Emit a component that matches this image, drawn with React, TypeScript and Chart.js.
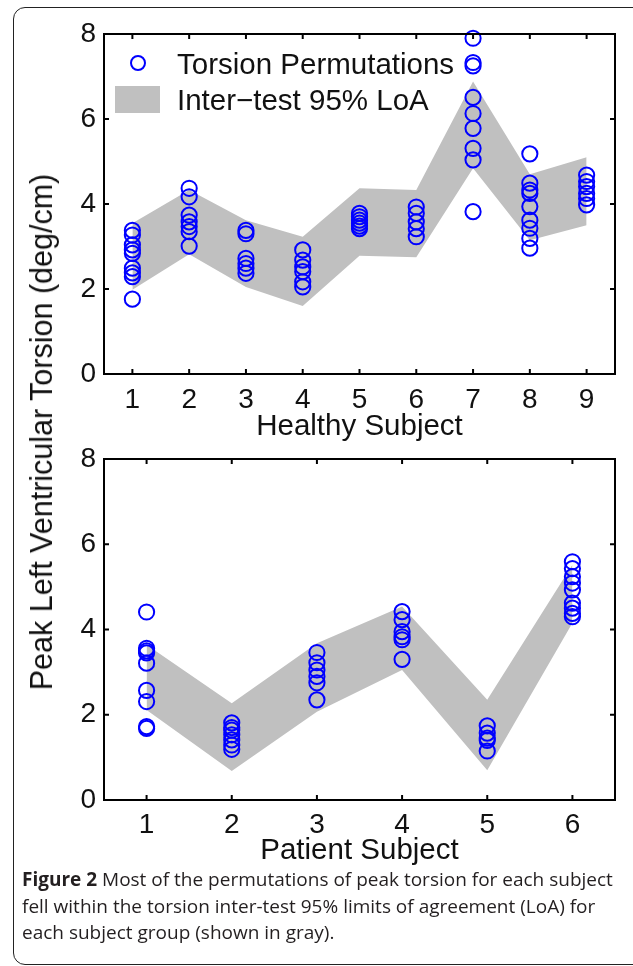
import React, { useEffect, useRef } from 'react';
import { Chart, registerables } from 'chart.js';

Chart.register(...registerables);

// ---------- data ----------
const healthySubjects = [1, 2, 3, 4, 5, 6, 7, 8, 9];
const patientSubjects = [1, 2, 3, 4, 5, 6];
const yTickValues = [0, 2, 4, 6, 8];

const healthyPermutations = [
  [3.38, 3.27, 3.04, 2.92, 2.84, 2.49, 2.38, 2.29, 1.76],
  [4.37, 4.17, 3.74, 3.58, 3.47, 3.35, 3.01],
  [3.38, 3.3, 2.72, 2.6, 2.49, 2.37],
  [2.92, 2.68, 2.52, 2.41, 2.17, 2.05],
  [3.78, 3.7, 3.62, 3.55, 3.48, 3.42],
  [3.93, 3.78, 3.58, 3.42, 3.23],
  [7.9, 7.33, 7.25, 6.51, 6.13, 5.78, 5.31, 5.04, 3.82],
  [5.18, 4.49, 4.33, 4.25, 3.94, 3.62, 3.43, 3.19, 2.96],
  [4.68, 4.53, 4.41, 4.25, 4.13, 3.98],
];
const healthyLoaUpper = [3.55, 4.33, 3.62, 3.23, 4.37, 4.33, 6.88, 4.7, 5.1];
const healthyLoaLower = [1.98, 2.82, 2.05, 1.6, 2.78, 2.75, 4.84, 3.15, 3.5];

const patientPermutations = [
  [4.41, 3.56, 3.5, 3.45, 3.21, 2.57, 2.31, 1.72, 1.68],
  [1.81, 1.7, 1.64, 1.53, 1.41, 1.29, 1.19],
  [3.46, 3.22, 3.05, 2.9, 2.75, 2.35],
  [4.42, 4.23, 3.95, 3.83, 3.76, 3.3],
  [1.74, 1.57, 1.45, 1.4, 1.15],
  [5.59, 5.43, 5.24, 5.09, 4.93, 4.62, 4.5, 4.38, 4.3],
];
const patientLoaUpper = [3.64, 2.27, 3.68, 4.54, 2.35, 5.52];
const patientLoaLower = [2.11, 0.68, 2.07, 3.05, 0.7, 4.15];

const healthyTitle = 'Healthy Subject';
const patientTitle = 'Patient Subject';
const yAxisTitle = 'Peak Left Ventricular Torsion (deg/cm)';
const legendPoints = 'Torsion Permutations';
const legendBand = 'Inter\u2212test 95% LoA';

// ---------- styling ----------
const FONT = '"Liberation Sans", Arial, Helvetica, sans-serif';
const TEXT = '#111';
const BLUE = '#0000ff';
const GRAY = '#c0c0c0';

const boxPlugin = {
  id: 'matlabBox',
  afterDraw(chart: any) {
    const { ctx, chartArea, scales } = chart;
    const { left, right, top, bottom } = chartArea;
    const x = scales.x;
    const y = scales.y;
    const tl = 5;
    ctx.save();
    ctx.strokeStyle = '#000';
    ctx.lineWidth = 2;
    ctx.beginPath();
    x.ticks.forEach((t: any) => {
      const px = x.getPixelForValue(t.value);
      ctx.moveTo(px, bottom);
      ctx.lineTo(px, bottom - tl);
      ctx.moveTo(px, top);
      ctx.lineTo(px, top + tl);
    });
    y.ticks.forEach((t: any) => {
      const py = y.getPixelForValue(t.value);
      ctx.moveTo(left, py);
      ctx.lineTo(left + tl, py);
      ctx.moveTo(right, py);
      ctx.lineTo(right - tl, py);
    });
    ctx.stroke();
    ctx.strokeRect(left, top, right - left, bottom - top);
    ctx.restore();
  },
};

function buildConfig(o: {
  subjects: number[];
  perms: number[][];
  upper: number[];
  lower: number[];
  title: string;
  padTop: number;
  xHeight: number;
  titlePadBottom: number;
  tickPad: number;
}): any {
  const points = o.subjects.flatMap((s, i) => o.perms[i].map((v) => ({ x: s, y: v })));
  return {
    type: 'scatter',
    data: {
      datasets: [
        {
          label: legendPoints,
          data: points,
          pointRadius: 7.6,
          pointHoverRadius: 7.6,
          pointBorderWidth: 2,
          pointBorderColor: BLUE,
          pointBackgroundColor: 'rgba(0,0,0,0)',
          clip: false,
        },
        {
          type: 'line',
          label: legendBand,
          data: o.subjects.map((s, i) => ({ x: s, y: o.upper[i] })),
          borderColor: 'rgba(0,0,0,0)',
          borderWidth: 0,
          pointRadius: 0,
          backgroundColor: GRAY,
          fill: '+1',
          tension: 0,
        },
        {
          type: 'line',
          label: 'lower',
          data: o.subjects.map((s, i) => ({ x: s, y: o.lower[i] })),
          borderColor: 'rgba(0,0,0,0)',
          borderWidth: 0,
          pointRadius: 0,
          fill: false,
          tension: 0,
        },
      ],
    },
    options: {
      responsive: false,
      animation: false,
      events: [],
      devicePixelRatio: 1,
      layout: { padding: { top: o.padTop, right: 18, left: 0, bottom: 0 } },
      plugins: { legend: { display: false }, tooltip: { enabled: false } },
      scales: {
        x: {
          type: 'linear',
          min: 0.5,
          max: o.subjects.length + 0.5,
          afterBuildTicks: (s: any) => {
            s.ticks = o.subjects.map((v) => ({ value: v }));
          },
          afterFit: (s: any) => {
            s.height = o.xHeight;
          },
          ticks: {
            font: { family: FONT, size: 28 },
            color: TEXT,
            padding: o.tickPad,
            maxRotation: 0,
            autoSkip: false,
            callback: (v: any) => String(v),
          },
          grid: { display: false, drawTicks: false },
          border: { display: false },
          title: {
            display: true,
            text: o.title,
            font: { family: FONT, size: 29.5 },
            color: TEXT,
            padding: { top: 0, bottom: o.titlePadBottom },
          },
        },
        y: {
          type: 'linear',
          min: 0,
          max: 8,
          afterBuildTicks: (s: any) => {
            s.ticks = yTickValues.map((v) => ({ value: v }));
          },
          afterFit: (s: any) => {
            s.width = 104;
          },
          ticks: {
            font: { family: FONT, size: 28 },
            color: TEXT,
            padding: 8,
            callback: (v: any) => String(v),
          },
          grid: { display: false, drawTicks: false },
          border: { display: false },
        },
      },
    },
    plugins: [boxPlugin],
  };
}

export default function App() {
  const topRef = useRef<HTMLCanvasElement>(null);
  const botRef = useRef<HTMLCanvasElement>(null);

  useEffect(() => {
    const c1 = new Chart(
      topRef.current as HTMLCanvasElement,
      buildConfig({
        subjects: healthySubjects,
        perms: healthyPermutations,
        upper: healthyLoaUpper,
        lower: healthyLoaLower,
        title: healthyTitle,
        padTop: 34,
        xHeight: 71,
        titlePadBottom: 0,
        tickPad: 9,
      })
    );
    const c2 = new Chart(
      botRef.current as HTMLCanvasElement,
      buildConfig({
        subjects: patientSubjects,
        perms: patientPermutations,
        upper: patientLoaUpper,
        lower: patientLoaLower,
        title: patientTitle,
        padTop: 29,
        xHeight: 75,
        titlePadBottom: 6,
        tickPad: 8,
      })
    );
    return () => {
      c1.destroy();
      c2.destroy();
    };
  }, []);

  const legendText: React.CSSProperties = {
    position: 'absolute',
    left: 177,
    fontFamily: FONT,
    fontSize: 29.5,
    lineHeight: '29px',
    color: TEXT,
    whiteSpace: 'nowrap',
  };

  const captionLine: React.CSSProperties = {
    whiteSpace: 'nowrap',
    height: 26.5,
    lineHeight: '26.5px',
  };

  return (
    <div
      style={{
        position: 'absolute',
        left: 0,
        top: 0,
        width: 633,
        height: 966,
        overflow: 'hidden',
        background: '#fff',
      }}
    >
      <div
        style={{
          position: 'absolute',
          left: 13,
          top: 7,
          width: 700,
          height: 958,
          border: '1.3px solid #222',
          borderRadius: '12px 0 0 12px',
          boxSizing: 'border-box',
        }}
      />
      <canvas
        ref={topRef}
        width={633}
        height={445}
        style={{ position: 'absolute', left: 0, top: 0, width: 633, height: 445 }}
      />
      <canvas
        ref={botRef}
        width={633}
        height={445}
        style={{ position: 'absolute', left: 0, top: 430, width: 633, height: 445 }}
      />
      {/* legend */}
      <div
        style={{
          position: 'absolute',
          left: 138 - 8,
          top: 63 - 8,
          width: 16,
          height: 16,
          boxSizing: 'border-box',
          border: `2px solid ${BLUE}`,
          borderRadius: '50%',
        }}
      />
      <div style={{ ...legendText, top: 49 }}>{legendPoints}</div>
      <div
        style={{
          position: 'absolute',
          left: 115,
          top: 86,
          width: 45,
          height: 27,
          background: GRAY,
        }}
      />
      <div style={{ ...legendText, top: 85 }}>{legendBand}</div>
      {/* shared y-axis title */}
      <div
        style={{
          position: 'absolute',
          left: 41,
          top: 432,
          transform: 'translate(-50%, -50%) rotate(-90deg)',
          fontFamily: FONT,
          fontSize: 30.5,
          lineHeight: '34px',
          color: TEXT,
          whiteSpace: 'nowrap',
        }}
      >
        {yAxisTitle}
      </div>
      {/* caption */}
      <div
        style={{
          position: 'absolute',
          left: 22,
          top: 866,
          fontFamily: '"Open Sans", "Noto Sans", sans-serif',
          fontSize: 19,
          color: '#231f20',
        }}
      >
        <div style={captionLine}>
          <b>Figure 2</b> Most of the permutations of peak torsion for each subject
        </div>
        <div style={captionLine}>
          fell within the torsion inter-test 95% limits of agreement (LoA) for
        </div>
        <div style={captionLine}>each subject group (shown in gray).</div>
      </div>
    </div>
  );
}
